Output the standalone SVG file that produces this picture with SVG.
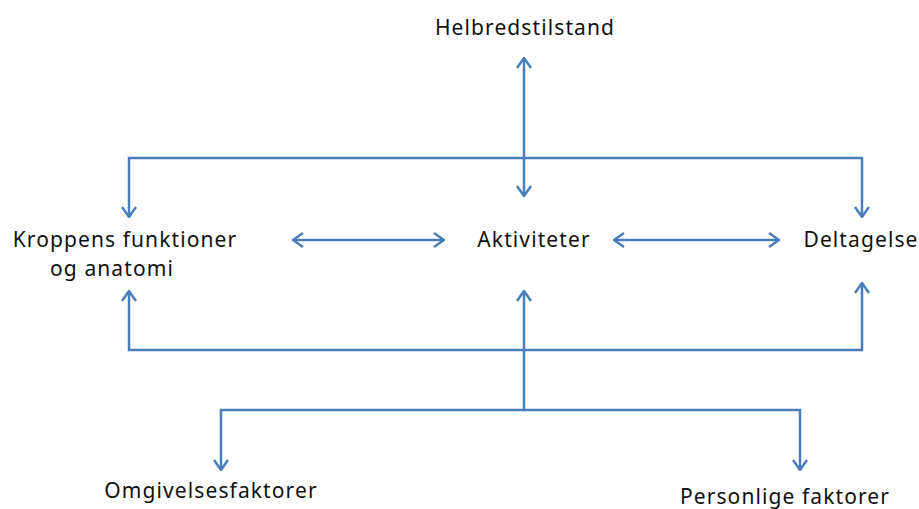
<svg xmlns="http://www.w3.org/2000/svg" width="919" height="509" viewBox="0 0 919 509">
<style>
text{font-family:"Noto Sans","Open Sans",sans-serif;font-size:21px;letter-spacing:1.1px;fill:#111;text-anchor:middle}
.c{fill:none;stroke:#4a7ebb;stroke-width:2.5}
</style>
<defs>
<marker id="ah" viewBox="0 0 12 16" refX="11" refY="8" markerWidth="12" markerHeight="16" markerUnits="userSpaceOnUse" orient="auto-start-reverse">
<path d="M1,1 L11,8 L1,15" fill="none" stroke="#4a7ebb" stroke-width="2.5"/>
</marker>
</defs>
<rect width="919" height="509" fill="#fff"/>
<g id="connectors">
<path class="c" d="M524,58 L524,196" marker-start="url(#ah)" marker-end="url(#ah)"/>
<path class="c" d="M129,217 L129,158 L862,158 L862,217" marker-start="url(#ah)" marker-end="url(#ah)"/>
<path class="c" d="M293,240 L444,240" marker-start="url(#ah)" marker-end="url(#ah)"/>
<path class="c" d="M614,240 L779,240" marker-start="url(#ah)" marker-end="url(#ah)"/>
<path class="c" d="M129,291 L129,350 L862,350 L862,283" marker-start="url(#ah)" marker-end="url(#ah)"/>
<path class="c" d="M524,291 L524,410"  marker-start="url(#ah)"/>
<path class="c" d="M221,470 L221,410 L800,410 L800,470" marker-start="url(#ah)" marker-end="url(#ah)"/>
</g>
<g id="helbredstilstand"><text x="525" y="35">Helbredstilstand</text></g>
<g id="kroppens"><text x="125" y="247">Kroppens funktioner</text><text x="112" y="276">og anatomi</text></g>
<g id="aktiviteter"><text x="534" y="247">Aktiviteter</text></g>
<g id="deltagelse"><text x="861" y="247">Deltagelse</text></g>
<g id="omgivelsesfaktorer"><text x="211" y="498">Omgivelsesfaktorer</text></g>
<g id="personlige"><text x="785" y="504">Personlige faktorer</text></g>
</svg>
